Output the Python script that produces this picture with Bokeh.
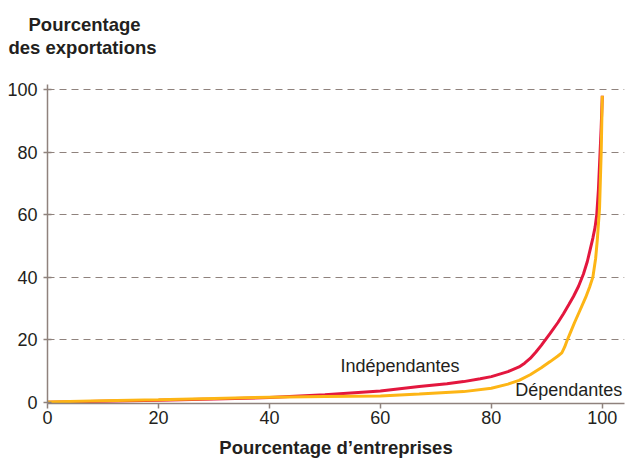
from bokeh.plotting import figure
from bokeh.models import Range1d, Label, FixedTicker, Title
from bokeh.embed import file_html
from bokeh.resources import INLINE

# Data
indep_x = [0, 10, 20, 30, 40, 50, 60, 67, 72, 75, 78, 80, 83, 85, 86, 87, 88, 89, 90.6, 92, 93, 94,
           94.8, 95.7, 96.6, 97.3, 97.8, 98.3, 98.7, 99, 99.3, 99.6, 99.8, 100]
indep_y = [0, 0.3, 0.6, 1.0, 1.5, 2.4, 3.6, 5.0, 5.9, 6.6, 7.5, 8.2, 9.8, 11.3, 12.5, 14.0, 16.0, 18.2, 22.0, 25.5, 28.3, 31.3,
           33.8, 37.0, 41.0, 45.0, 48.7, 52.5, 56, 60, 68, 80, 88, 98]
dep_x = [0, 10, 20, 30, 40, 50, 60, 67, 75, 80, 83, 85, 87, 89, 90.6, 92, 92.7, 93.2, 93.6, 94.3,
         95, 96, 97, 97.7, 98.3, 98.8, 99.1, 99.5, 99.8, 100]
dep_y = [0.1, 0.5, 0.8, 1.2, 1.6, 1.8, 2.0, 2.6, 3.4, 4.5, 5.8, 7.0, 8.8, 11.0, 13.0, 14.8, 15.8, 17.6, 19.5, 22.5,
         25.5, 29.5, 33.5, 36.8, 40, 46, 52, 62, 80, 98]
x_ticks = [0, 20, 40, 60, 80, 100]
y_ticks = [0, 20, 40, 60, 80, 100]

FONT = "Liberation Sans"
AXIS_COL = "#8f827d"
TEXT_COL = "#231f20"
RED = "#e3173e"
YEL = "#fdb515"

p = figure(width=626, height=460, output_backend="svg", toolbar_location=None,
           x_range=Range1d(0, 104), y_range=Range1d(-0.4, 101.6),
           min_border_left=47, min_border_right=2, min_border_top=84, min_border_bottom=55)
p.title = None
p.outline_line_color = None
p.background_fill_color = "white"
p.border_fill_color = "white"

p.xgrid.grid_line_color = None
p.ygrid.grid_line_color = AXIS_COL
p.ygrid.grid_line_dash = "7 5"
p.ygrid.grid_line_width = 1
p.ygrid.ticker = FixedTicker(ticks=y_ticks[1:])

for ax in (p.xaxis[0], p.yaxis[0]):
    ax.axis_line_color = AXIS_COL
    ax.axis_line_width = 1.5
    ax.major_tick_line_color = AXIS_COL
    ax.major_tick_line_width = 1.5
    ax.minor_tick_line_color = None
    ax.major_label_text_font = FONT
    ax.major_label_text_font_size = "18px"
    ax.major_label_text_color = TEXT_COL

p.xaxis.ticker = FixedTicker(ticks=x_ticks)
p.yaxis.ticker = FixedTicker(ticks=y_ticks)
p.xaxis.major_tick_out = 5
p.xaxis.major_tick_in = 0
p.xaxis.major_label_standoff = 2
p.yaxis.major_tick_out = 4
p.yaxis.major_tick_in = 4
p.yaxis.major_label_standoff = 6

p.xaxis.axis_label = "Pourcentage d\u2019entreprises"
p.xaxis.axis_label_text_font = FONT
p.xaxis.axis_label_text_font_size = "18.5px"
p.xaxis.axis_label_text_font_style = "bold"
p.xaxis.axis_label_text_color = TEXT_COL
p.xaxis.axis_label_standoff = 10

p.line(indep_x, indep_y, line_color=RED, line_width=3)
p.line(dep_x, dep_y, line_color=YEL, line_width=3)

p.add_layout(Label(x=52.8, y=11.7, text="Ind\u00e9pendantes", text_font=FONT,
                   text_font_size="18px", text_color=TEXT_COL, text_baseline="alphabetic"))
p.add_layout(Label(x=84.3, y=3.8, text="D\u00e9pendantes", text_font=FONT,
                   text_font_size="18px", text_color=TEXT_COL, text_baseline="alphabetic"))

# Y title (two lines, above the frame); first-added panels sit closest to the frame
p.add_layout(Title(text=" ", align="left", standoff=24, text_font=FONT,
                   text_font_size="1px", text_color="white"), "above")
p.add_layout(Title(text="des exportations", align="left", offset=-39, standoff=0,
                   text_font=FONT, text_font_size="18.5px", text_font_style="bold",
                   text_color=TEXT_COL), "above")
p.add_layout(Title(text="Pourcentage", align="left", offset=-19, standoff=0,
                   text_font=FONT, text_font_size="18.5px", text_font_style="bold",
                   text_color=TEXT_COL), "above")

open("out.html", "w").write(file_html(p, INLINE))
